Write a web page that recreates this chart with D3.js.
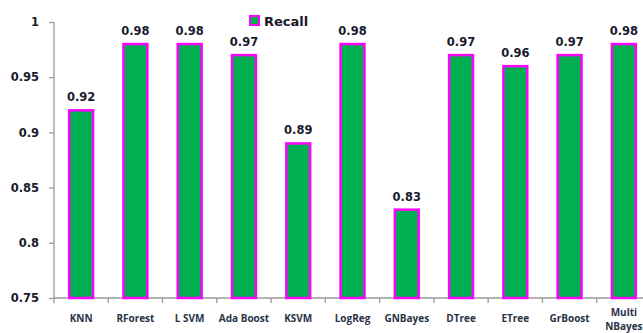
<!DOCTYPE html>
<html>
<head>
<meta charset="utf-8">
<script src="https://cdn.jsdelivr.net/npm/d3@7"></script>
<style>
  body { margin: 0; background: #fff; }
  svg { display: block; }
</style>
</head>
<body>
<script>
const width = 643
const height = 333

const models = ['KNN', 'RForest', 'L SVM', 'Ada Boost', 'KSVM', 'LogReg', 'GNBayes', 'DTree', 'ETree', 'GrBoost', 'Multi NBayes']
const recall = [0.92, 0.98, 0.98, 0.97, 0.89, 0.98, 0.83, 0.97, 0.96, 0.97, 0.98]
const yTicks = [0.75, 0.8, 0.85, 0.9, 0.95, 1]
const seriesName = 'Recall'

const mainFont = '"DejaVu Sans", sans-serif'
const catFont = '"Open Sans", sans-serif'

const svg = d3.select('body').append('svg')
  .attr('width', width)
  .attr('height', height)

const x = d3.scaleBand()
  .domain(models)
  .range([54, 651])
  .paddingInner(0.56)
  .paddingOuter(0.28)

const y = d3.scaleLinear()
  .domain([0.75, 1])
  .range([298, 22])

// y axis
const yAxis = svg.append('g')
  .attr('transform', 'translate(54,0)')
  .call(d3.axisLeft(y).tickValues(yTicks).tickSize(5).tickPadding(10)
    .tickFormat(d => d3.format('')(d)))
yAxis.selectAll('path, line').attr('stroke', '#9a9a9a').attr('stroke-width', 1.3)
yAxis.select('.domain').attr('d', 'M0,22V298')
yAxis.attr('font-family', mainFont)
yAxis.selectAll('text')
  .attr('font-size', 11.5)
  .attr('font-weight', 'bold')
  .attr('fill', '#1a1a2e')

// x axis
const xAxis = svg.append('g')
  .attr('transform', 'translate(0,298)')
  .call(d3.axisBottom(x).tickSize(0).tickFormat(''))
xAxis.selectAll('path').attr('stroke', '#9a9a9a').attr('stroke-width', 1.3)
xAxis.select('.domain').attr('d', 'M54,0H651')

// category separators
const step = x.step()
xAxis.selectAll('.sep')
  .data(models)
  .join('line')
  .attr('class', 'sep')
  .attr('x1', (d, i) => 54 + i * step)
  .attr('x2', (d, i) => 54 + i * step)
  .attr('y1', 0)
  .attr('y2', 5)
  .attr('stroke', '#9a9a9a')
  .attr('stroke-width', 1.3)

// category labels
const cats = svg.append('g')
cats.selectAll('text')
  .data(models)
  .join('text')
  .attr('x', d => x(d) + x.bandwidth() / 2)
  .attr('y', d => d === 'Multi NBayes' ? 316 : 322)
  .attr('text-anchor', 'middle')
  .attr('font-family', catFont)
  .attr('font-size', 10)
  .attr('font-weight', 'bold')
  .attr('fill', '#2a3346')
  .each(function (d) {
    const parts = d === 'Multi NBayes' ? ['Multi', 'NBayes'] : [d]
    d3.select(this).selectAll('tspan')
      .data(parts)
      .join('tspan')
      .attr('x', x(d) + x.bandwidth() / 2)
      .attr('dy', (p, i) => i === 0 ? 0 : 13.5)
      .text(p => p)
  })

// bars
const data = models.map((m, i) => ({ model: m, value: recall[i] }))
svg.append('g')
  .selectAll('rect')
  .data(data)
  .join('rect')
  .attr('x', d => x(d.model))
  .attr('y', d => y(d.value))
  .attr('width', x.bandwidth())
  .attr('height', d => y(0.75) - y(d.value))
  .attr('fill', '#00b050')
  .attr('stroke', '#ff00ff')
  .attr('stroke-width', 2.5)

// value labels
svg.append('g')
  .attr('font-family', mainFont)
  .selectAll('text')
  .data(data)
  .join('text')
  .attr('x', d => x(d.model) + x.bandwidth() / 2)
  .attr('y', d => y(d.value) - 9)
  .attr('text-anchor', 'middle')
  .attr('font-size', 11.5)
  .attr('font-weight', 'bold')
  .attr('fill', '#1a1a2e')
  .text(d => d3.format('.2f')(d.value))

// legend
const legend = svg.append('g').attr('transform', 'translate(250,16)')
legend.append('rect')
  .attr('width', 9)
  .attr('height', 9)
  .attr('fill', '#00b050')
  .attr('stroke', '#ff00ff')
  .attr('stroke-width', 2)
legend.append('text')
  .attr('x', 14)
  .attr('y', 10)
  .attr('font-family', mainFont)
  .attr('font-size', 13)
  .attr('font-weight', 'bold')
  .attr('fill', '#1a1a2e')
  .text(seriesName)
</script>
</body>
</html>
